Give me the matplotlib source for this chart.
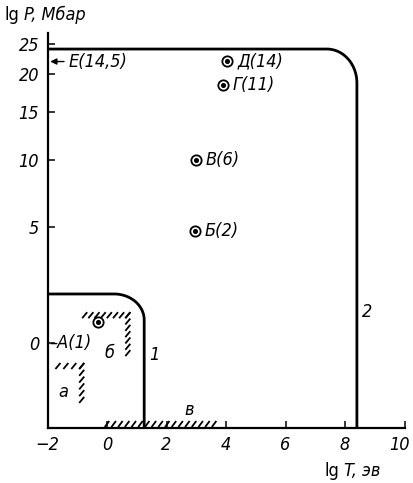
import numpy as np
import matplotlib
matplotlib.use("Agg")
import matplotlib.pyplot as plt
import matplotlib.transforms as mtransforms
from matplotlib.collections import LineCollection

# ---- data ----
x_ticks = [-2, 0, 2, 4, 6, 8, 10]
y_ticks = [0, 5, 10, 15, 20, 25]
x_lim = (-2, 10)
y_lim = (-2, 27)

point_names = ["Д(14)", "Г(11)", "В(6)", "Б(2)", "A(1)"]
point_lgT = [4.05, 3.9, 3.0, 2.95, -0.3]
point_lgP = [22.1, 18.5, 10.0, 4.8, 0.65]

# boundary 1 (lgT max, lgP max) and boundary 2
bound1 = (1.25, 1.7)
bound2 = (8.4, 24.1)

# hatched regions: (lgT left, lgT right, lgP bottom, lgP top)
region_a = (-1.65, -0.85, -1.45, -0.65)
region_b = (-0.75, 0.7, -0.3, 0.9)
region_v = (0.0, 3.6)   # along the lgT axis
edge_E_lgP = 22.0

FS = 13
font = dict(family="DejaVu Sans", style="italic", fontstretch="condensed")

fig = plt.figure(figsize=(4.13, 4.83), dpi=100)
ax = fig.add_axes([47.5 / 413, 55 / 483, 357 / 413, (428 - 33.2) / 483])

fwd = lambda y: np.log10(np.asarray(y, float) + 5.0)
inv = lambda y: 10 ** np.asarray(y, float) - 5.0
ax.set_yscale("function", functions=(fwd, inv))
ax.set_xlim(*x_lim)
ax.set_ylim(*y_lim)

for s in ["top", "right"]:
    ax.spines[s].set_visible(False)
for s in ["left", "bottom"]:
    ax.spines[s].set_linewidth(1.6)

ax.set_xticks(x_ticks)
ax.set_yticks(y_ticks)
ax.set_xticklabels(["\u22122" if v < 0 else str(v) for v in x_ticks], **font, fontsize=FS)
ax.set_yticklabels([str(v) for v in y_ticks], **font, fontsize=FS)
ax.tick_params(direction="in", length=5, width=1.1, pad=6)
ax.minorticks_off()
# nudge the last x tick label inward so it stays inside the figure
last = ax.get_xticklabels()[-1]
last.set_transform(last.get_transform() +
                   mtransforms.ScaledTranslation(-5 / 100, 0, fig.dpi_scale_trans))

fig.canvas.draw()
to_disp = ax.transData.transform
to_data = ax.transData.inverted().transform


def rounded_box(xmax, ymax, rx, ry):
    p_left = to_disp((x_lim[0], ymax))
    p_corner = to_disp((xmax, ymax))
    p_bot = to_disp((xmax, y_lim[0]))
    t = np.linspace(0, np.pi / 2, 40)
    cx, cy = p_corner[0] - rx, p_corner[1] - ry
    arc = np.column_stack([cx + rx * np.sin(t), cy + ry * np.cos(t)])
    pts = np.vstack([p_left, arc, p_bot])
    return to_data(pts)


b1 = rounded_box(bound1[0], bound1[1], 30, 26)
b2 = rounded_box(bound2[0], bound2[1], 30, 34)
ax.plot(b1[:, 0], b1[:, 1], color="black", lw=2.0, clip_on=False, solid_capstyle="butt")
ax.plot(b2[:, 0], b2[:, 1], color="black", lw=2.0, clip_on=False, solid_capstyle="butt")


def hatch_along(points_data, step=6.0, d=(5.0, 6.0), offset=(0.0, 0.0)):
    pts = to_disp(np.asarray(points_data, float))
    segs = []
    d = np.array(d)
    off = np.array(offset)
    for a, b in zip(pts[:-1], pts[1:]):
        L = np.hypot(*(b - a))
        n = max(int(L // step), 1)
        for k in range(n + 1):
            p = a + (b - a) * k / n + off
            segs.append(to_data(np.array([p - d / 2, p + d / 2])))
    ax.add_collection(LineCollection(segs, colors="black", linewidths=1.3))


xa0, xa1, ya0, ya1 = region_a
hatch_along([(xa0, ya1), (xa1, ya1), (xa1, ya0)])
xb0, xb1, yb0, yb1 = region_b
hatch_along([(xb0, yb1), (xb1, yb1), (xb1, yb0)])
# region в along the axis
hatch_along([(region_v[0], y_lim[0]), (region_v[1], y_lim[0])], step=6.5,
            d=(4.5, 6.0), offset=(0.0, 4.0))

# points
ax.scatter(point_lgT, point_lgP, s=55, facecolors="white", edgecolors="black",
           linewidths=1.3, zorder=5)
ax.scatter(point_lgT, point_lgP, s=7, color="black", zorder=6)
for n, x, y in zip(point_names[:4], point_lgT[:4], point_lgP[:4]):
    ax.annotate(n, (x, y), xytext=(7, 0), textcoords="offset points",
                va="center", ha="left", fontsize=FS, **font)

ax.annotate("\u2013A(1)", (x_lim[0], 0), xytext=(1, 0), textcoords="offset points",
            va="center", ha="left", fontsize=FS, **font)

# E(14,5) arrow
ax.annotate("", xy=(x_lim[0], edge_E_lgP), xytext=(-1.35, edge_E_lgP),
            arrowprops=dict(arrowstyle="-|>", color="black", lw=1.0, mutation_scale=9))
ax.annotate("E(14,5)", (-1.35, edge_E_lgP), xytext=(1, 0), textcoords="offset points",
            va="center", ha="left", fontsize=FS, **font)

# region / curve labels
ax.annotate("а", (xa0, ya0), xytext=(0, 6), textcoords="offset points",
            ha="left", va="center", fontsize=FS, **font)
ax.annotate("б", (xb1, yb0), xytext=(-13, 0), textcoords="offset points",
            ha="center", va="center", fontsize=FS, **font)
ax.annotate("в", (region_v[1], y_lim[0]), xytext=(-18, 13), textcoords="offset points",
            ha="center", va="center", fontsize=FS, **font)
ax.annotate("1", (bound1[0], 0), xytext=(7, -9), textcoords="offset points",
            ha="center", va="center", fontsize=FS, **font)
ax.annotate("2", (bound2[0], 1.0), xytext=(7, 0), textcoords="offset points",
            ha="center", va="center", fontsize=FS, **font)

# axis titles
fig.text(5 / 413, 1 - 15 / 483, "lg", fontsize=FS, family="DejaVu Sans",
         fontstretch="condensed", va="center", ha="left")
fig.text(24 / 413, 1 - 15 / 483, "P, Мбар", fontsize=FS, va="center", ha="left", **font)
fig.text(325 / 413, 1 - 471 / 483, "lg", fontsize=FS, family="DejaVu Sans",
         fontstretch="condensed", va="center", ha="left")
fig.text(344 / 413, 1 - 471 / 483, "T, эв", fontsize=FS, va="center", ha="left", **font)

fig.savefig("out.png", dpi=100)
